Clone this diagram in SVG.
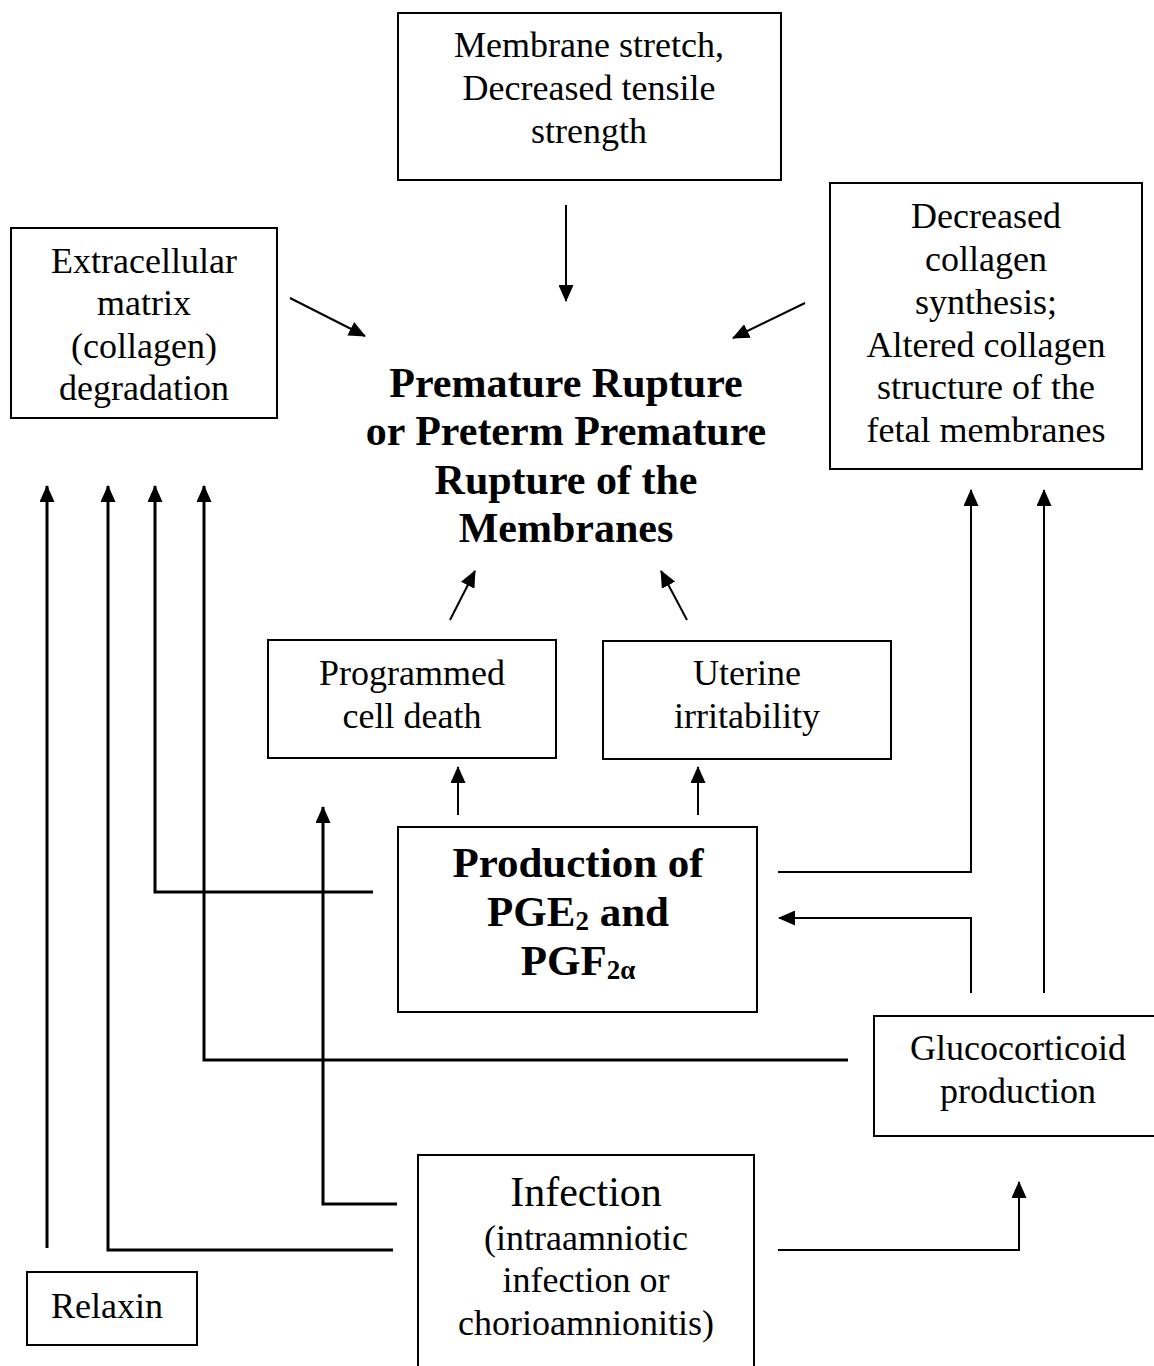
<svg xmlns="http://www.w3.org/2000/svg" width="1154" height="1366" viewBox="0 0 1154 1366">
<style>
.box{fill:#fff;stroke:#000;stroke-width:2}
.t{font-family:"Liberation Serif","Times New Roman",serif;font-size:36px;text-anchor:middle;fill:#000}
.b{font-family:"Liberation Serif","Times New Roman",serif;font-size:42px;font-weight:bold;text-anchor:middle;fill:#000}
.c{fill:none;stroke:#000;stroke-width:2}
.k{fill:none;stroke:#000;stroke-width:3}
</style>
<defs>
<marker id="ah" markerUnits="userSpaceOnUse" markerWidth="17" markerHeight="15" viewBox="0 0 17 15" refX="16" refY="7.5" orient="auto">
<path d="M0,0 L17,7.5 L0,15 Z" fill="#000"/>
</marker>
</defs>
<rect width="1154" height="1366" fill="#fff"/>

<g id="membrane-stretch">
<rect class="box" x="398" y="13" width="383" height="167"/>
<text class="t" x="589" y="57">Membrane stretch,</text>
<text class="t" x="589" y="100">Decreased tensile</text>
<text class="t" x="589" y="143">strength</text>
</g>

<g id="extracellular">
<rect class="box" x="11" y="228" width="266" height="190"/>
<text class="t" x="144" y="273">Extracellular</text>
<text class="t" x="144" y="315">matrix</text>
<text class="t" x="144" y="358">(collagen)</text>
<text class="t" x="144" y="400">degradation</text>
</g>

<g id="decreased-collagen">
<rect class="box" x="830" y="183" width="312" height="286"/>
<text class="t" x="986" y="228">Decreased</text>
<text class="t" x="986" y="271">collagen</text>
<text class="t" x="986" y="314">synthesis;</text>
<text class="t" x="986" y="357">Altered collagen</text>
<text class="t" x="986" y="399">structure of the</text>
<text class="t" x="986" y="442">fetal membranes</text>
</g>

<g id="prom">
<text class="b" x="566" y="397">Premature Rupture</text>
<text class="b" x="566" y="445">or Preterm Premature</text>
<text class="b" x="566" y="494">Rupture of the</text>
<text class="b" x="566" y="542">Membranes</text>
</g>

<g id="programmed-cell-death">
<rect class="box" x="268" y="640" width="288" height="118"/>
<text class="t" x="412" y="685">Programmed</text>
<text class="t" x="412" y="728">cell death</text>
</g>

<g id="uterine-irritability">
<rect class="box" x="603" y="641" width="288" height="118"/>
<text class="t" x="747" y="685">Uterine</text>
<text class="t" x="747" y="728">irritability</text>
</g>

<g id="production">
<rect class="box" x="398" y="827" width="359" height="185"/>
<text class="b" x="578" y="877" style="font-size:43px">Production of</text>
<text class="b" x="578" y="926" style="font-size:43px">PGE<tspan style="font-size:27px" dy="4">2</tspan><tspan dy="-4"> and</tspan></text>
<text class="b" x="578" y="975" style="font-size:43px">PGF<tspan style="font-size:27px" dy="4">2α</tspan></text>
</g>

<g id="glucocorticoid">
<rect class="box" x="874" y="1016" width="290" height="120"/>
<text class="t" x="1018" y="1060">Glucocorticoid</text>
<text class="t" x="1018" y="1103">production</text>
</g>

<g id="infection">
<rect class="box" x="418" y="1155" width="336" height="230"/>
<text class="t" x="586" y="1206" style="font-size:42px">Infection</text>
<text class="t" x="586" y="1250">(intraamniotic</text>
<text class="t" x="586" y="1292">infection or</text>
<text class="t" x="586" y="1335">chorioamnionitis)</text>
</g>

<g id="relaxin">
<rect class="box" x="27" y="1272" width="170" height="73"/>
<text class="t" x="107" y="1318">Relaxin</text>
</g>

<g id="connectors">
<path class="c" d="M566,205 L566,301" marker-end="url(#ah)"/>
<path class="c" d="M290,298 L365,336" marker-end="url(#ah)"/>
<path class="c" d="M805,303 L733,338" marker-end="url(#ah)"/>
<path class="c" d="M450,620 L475,571" marker-end="url(#ah)"/>
<path class="c" d="M687,620 L661,571" marker-end="url(#ah)"/>
<path class="c" d="M458,815 L458,767" marker-end="url(#ah)"/>
<path class="c" d="M698,815 L698,767" marker-end="url(#ah)"/>
<path class="k" d="M47,1248 L47,486" marker-end="url(#ah)"/>
<path class="k" d="M393,1250 L108,1250 L108,486" marker-end="url(#ah)"/>
<path class="k" d="M373,892 L155,892 L155,486" marker-end="url(#ah)"/>
<path class="k" d="M848,1060 L204,1060 L204,486" marker-end="url(#ah)"/>
<path class="k" d="M397,1204 L323,1204 L323,807" marker-end="url(#ah)"/>
<path class="c" d="M778,872 L971,872 L971,490" marker-end="url(#ah)"/>
<path class="c" d="M971,993 L971,918 L779,918" marker-end="url(#ah)"/>
<path class="c" d="M1044,993 L1044,490" marker-end="url(#ah)"/>
<path class="c" d="M778,1250 L1019,1250 L1019,1182" marker-end="url(#ah)"/>
</g>
</svg>
